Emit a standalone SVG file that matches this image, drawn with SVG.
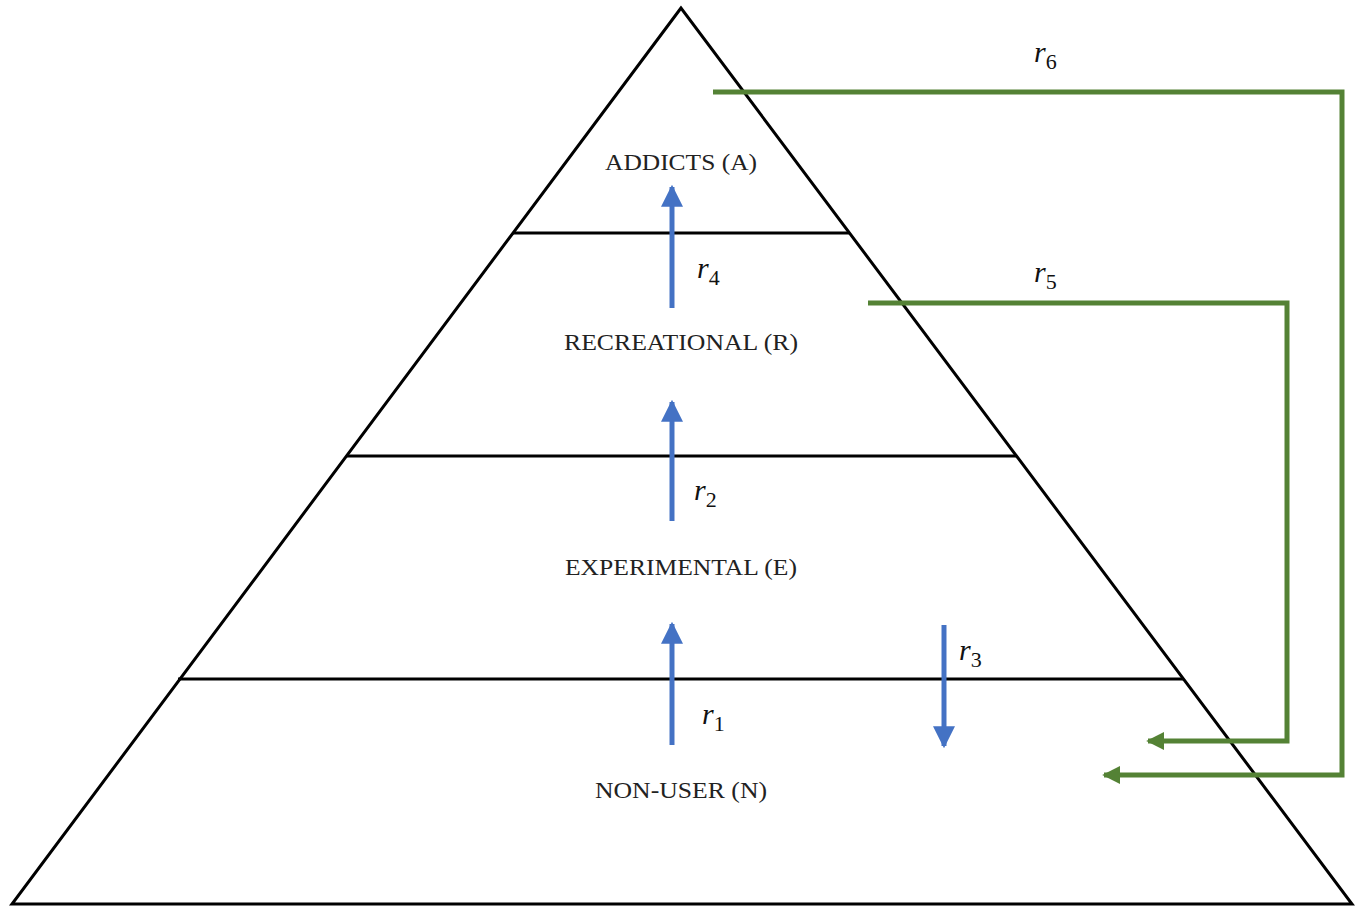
<svg xmlns="http://www.w3.org/2000/svg" width="1363" height="923" viewBox="0 0 1363 923">
<defs>
<style>
.edge{stroke:#000;stroke-width:3;fill:none}
.lbl{font-family:"Liberation Serif",serif;font-size:23px;fill:#222;text-anchor:middle}
.blue{stroke:#4472C4;stroke-width:5;fill:none}
.green{stroke:#548235;stroke-width:5;fill:none}
.rate{font-family:"Liberation Serif",serif;font-size:30px;font-style:italic;fill:#111}
.sub{font-style:normal;font-size:22px}
</style>
<marker id="bh" viewBox="0 0 10 10" refX="9" refY="5" markerWidth="4.4" markerHeight="4.4" orient="auto" markerUnits="strokeWidth"><path d="M0,0 L10,5 L0,10 Z" fill="#4472C4"/></marker>
<marker id="gh" viewBox="0 0 10 10" refX="9" refY="5" markerWidth="3.6" markerHeight="3.6" orient="auto" markerUnits="strokeWidth"><path d="M0,0 L10,5 L0,10 Z" fill="#548235"/></marker>
</defs>
<rect width="1363" height="923" fill="#fff"/>
<g id="pyramid">
<path class="edge" d="M681,8 L12,904 L1352,904 Z"/>
<line class="edge" x1="513" y1="233" x2="849" y2="233"/>
<line class="edge" x1="346" y1="456" x2="1016" y2="456"/>
<line class="edge" x1="178" y1="679" x2="1184" y2="679"/>
</g>
<g id="node-addicts"><text class="lbl" x="681" y="170" textLength="152" lengthAdjust="spacingAndGlyphs">ADDICTS (A)</text></g>
<g id="node-recreational"><text class="lbl" x="681" y="350" textLength="234" lengthAdjust="spacingAndGlyphs">RECREATIONAL (R)</text></g>
<g id="node-experimental"><text class="lbl" x="681" y="575" textLength="232" lengthAdjust="spacingAndGlyphs">EXPERIMENTAL (E)</text></g>
<g id="node-nonuser"><text class="lbl" x="681" y="798" textLength="172" lengthAdjust="spacingAndGlyphs">NON-USER (N)</text></g>
<g id="connectors">
<line class="blue" x1="672" y1="745" x2="672" y2="624" marker-end="url(#bh)"/>
<line class="blue" x1="672" y1="521" x2="672" y2="402" marker-end="url(#bh)"/>
<line class="blue" x1="672" y1="308" x2="672" y2="187" marker-end="url(#bh)"/>
<line class="blue" x1="944" y1="625" x2="944" y2="746" marker-end="url(#bh)"/>
<polyline class="green" points="868,303 1287,303 1287,741 1148,741" marker-end="url(#gh)"/>
<polyline class="green" points="713,92 1342,92 1342,775 1104,775" marker-end="url(#gh)"/>
</g>
<g id="rate-labels">
<text class="rate" x="702" y="724">r<tspan class="sub" dy="7">1</tspan></text>
<text class="rate" x="694" y="500">r<tspan class="sub" dy="7">2</tspan></text>
<text class="rate" x="959" y="660">r<tspan class="sub" dy="7">3</tspan></text>
<text class="rate" x="697" y="278">r<tspan class="sub" dy="7">4</tspan></text>
<text class="rate" x="1034" y="282">r<tspan class="sub" dy="7">5</tspan></text>
<text class="rate" x="1034" y="62">r<tspan class="sub" dy="7">6</tspan></text>
</g>
</svg>
